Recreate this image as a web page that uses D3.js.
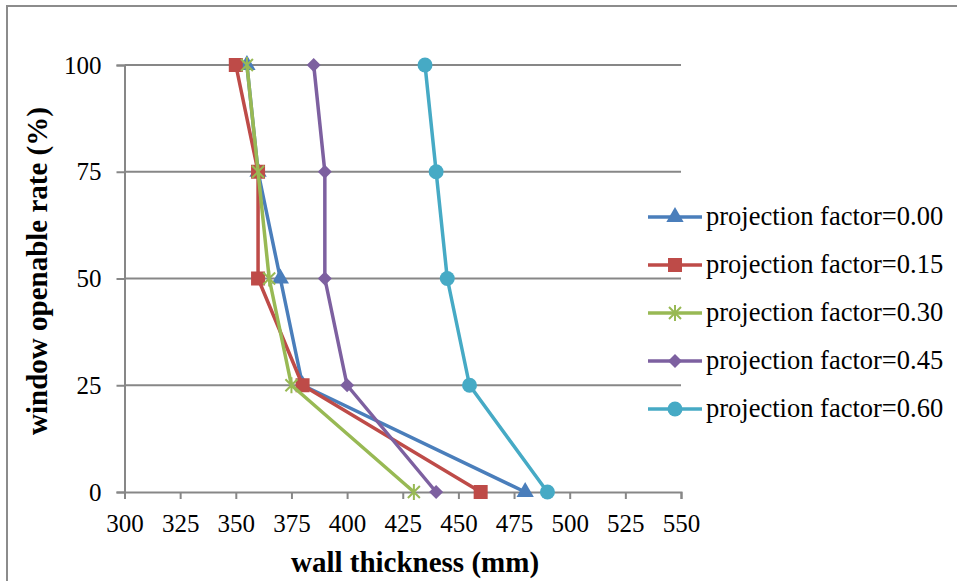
<!DOCTYPE html>
<html>
<head>
<meta charset="utf-8">
<script src="https://cdn.jsdelivr.net/npm/d3@7"></script>
<style>
  html, body { margin: 0; padding: 0; background: #fff; }
  svg { display: block; }
</style>
</head>
<body>
<svg id="chart" width="957" height="581"></svg>
<script>
// Window openable rate (%) levels on the vertical axis
const rates = [100, 75, 50, 25, 0];

// Wall thickness (mm) for each projection factor, one value per rate above
const pf000 = [355, 360, 370, 380, 480];
const pf015 = [350, 360, 360, 380, 460];
const pf030 = [355, 360, 365, 375, 430];
const pf045 = [385, 390, 390, 400, 440];
const pf060 = [435, 440, 445, 455, 490];

const seriesNames = [
  "projection factor=0.00",
  "projection factor=0.15",
  "projection factor=0.30",
  "projection factor=0.45",
  "projection factor=0.60"
];

const xTicks = [300, 325, 350, 375, 400, 425, 450, 475, 500, 525, 550];
const yTicks = [0, 25, 50, 75, 100];

const colors = ["#4A7EBB", "#BE4B48", "#98B954", "#7D60A0", "#46AAC5"];
const symbolsKind = ["triangle", "square", "star", "diamond", "circle"];

const seriesValues = [pf000, pf015, pf030, pf045, pf060];
const series = seriesNames.map((name, i) => ({
  name,
  color: colors[i],
  kind: symbolsKind[i],
  points: rates.map((r, j) => ({ x: seriesValues[i][j], y: r }))
}));

const svg = d3.select("#chart");
const font = "'Liberation Serif', 'Times New Roman', serif";
const gridColor = "#878787";

// Outer frame (top and left edges)
svg.append("path")
  .attr("d", "M7,581 L7,6 L957,6")
  .attr("fill", "none")
  .attr("stroke", "#8c8c8c")
  .attr("stroke-width", 2);

const x = d3.scaleLinear().domain([300, 550]).range([124.5, 681]);
const y = d3.scaleLinear().domain([0, 100]).range([492, 65]);

// Horizontal gridlines
svg.append("g")
  .selectAll("line")
  .data(yTicks.filter(d => d !== 0))
  .join("line")
  .attr("x1", x(300)).attr("x2", x(550))
  .attr("y1", d => y(d)).attr("y2", d => y(d))
  .attr("stroke", gridColor)
  .attr("stroke-width", 2);

// Y axis
const yAxis = svg.append("g")
  .attr("transform", `translate(${x(300)},0)`)
  .call(d3.axisLeft(y).tickValues(yTicks).tickSize(8).tickPadding(15));
yAxis.select(".domain").attr("stroke", gridColor).attr("stroke-width", 2);
yAxis.selectAll(".tick line").attr("stroke", gridColor).attr("stroke-width", 2);
yAxis.selectAll(".tick text")
  .attr("font-family", font).attr("font-size", 25).attr("fill", "#000");

// X axis
const xAxis = svg.append("g")
  .attr("transform", `translate(0,${y(0)})`)
  .call(d3.axisBottom(x).tickValues(xTicks).tickSize(7).tickPadding(15));
xAxis.select(".domain").attr("stroke", gridColor).attr("stroke-width", 2);
xAxis.selectAll(".tick line").attr("stroke", gridColor).attr("stroke-width", 2);
xAxis.selectAll(".tick text")
  .attr("font-family", font).attr("font-size", 25).attr("fill", "#000");

// Axis titles
svg.append("text")
  .attr("x", 415).attr("y", 572)
  .attr("text-anchor", "middle")
  .attr("font-family", font).attr("font-size", 29).attr("font-weight", "bold")
  .text("wall thickness (mm)");

svg.append("text")
  .attr("transform", "translate(47,271) rotate(-90)")
  .attr("text-anchor", "middle")
  .attr("font-family", font).attr("font-size", 29).attr("font-weight", "bold")
  .text("window openable rate (%)");

// Marker drawing
function drawMarker(g, kind, color) {
  if (kind === "triangle") {
    g.append("path").attr("d", d3.symbol(d3.symbolTriangle, 130)()).attr("fill", color);
  } else if (kind === "square") {
    g.append("rect").attr("x", -7).attr("y", -7).attr("width", 14).attr("height", 14).attr("fill", color);
  } else if (kind === "diamond") {
    g.append("path").attr("d", "M0,-7 L7,0 L0,7 L-7,0 Z").attr("fill", color);
  } else if (kind === "circle") {
    g.append("circle").attr("r", 7.5).attr("fill", color);
  } else if (kind === "star") {
    g.append("path")
      .attr("d", "M-6,-6 L6,6 M-6,6 L6,-6 M0,-8 L0,8")
      .attr("stroke", color).attr("stroke-width", 2).attr("fill", "none");
  }
}

const line = d3.line().x(d => x(d.x)).y(d => y(d.y));

// Series lines and markers
series.forEach(s => {
  const g = svg.append("g");
  g.append("path")
    .datum(s.points)
    .attr("d", line)
    .attr("fill", "none")
    .attr("stroke", s.color)
    .attr("stroke-width", 3.5)
    .attr("stroke-linejoin", "round");
  s.points.forEach(p => {
    const m = g.append("g").attr("transform", `translate(${x(p.x)},${y(p.y)})`);
    drawMarker(m, s.kind, s.color);
  });
});

// Legend
const legend = svg.append("g");
series.forEach((s, i) => {
  const cy = 217 + i * 48;
  const row = legend.append("g").attr("transform", `translate(0,${cy})`);
  row.append("line")
    .attr("x1", 648).attr("x2", 702)
    .attr("y1", 0).attr("y2", 0)
    .attr("stroke", s.color).attr("stroke-width", 3.5);
  const m = row.append("g").attr("transform", "translate(675,0)");
  drawMarker(m, s.kind, s.color);
  row.append("text")
    .attr("x", 706).attr("y", 8)
    .attr("font-family", font).attr("font-size", 26.5).attr("fill", "#000")
    .text(s.name);
});
</script>
</body>
</html>
